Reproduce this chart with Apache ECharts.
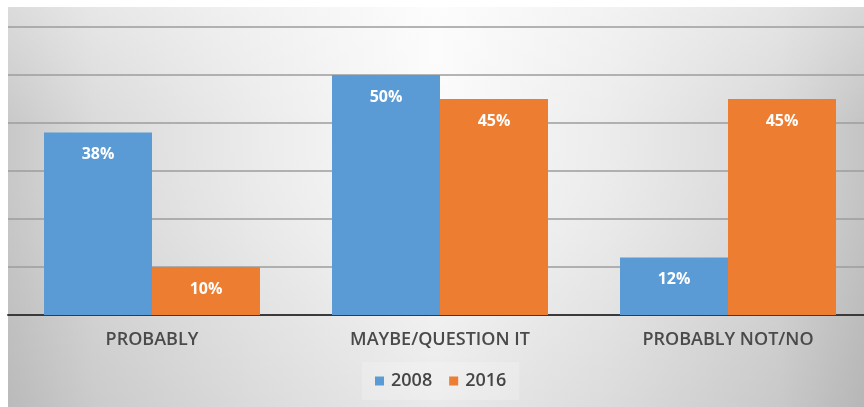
<!DOCTYPE html>
<html>
<head>
<meta charset="utf-8">
<script src="https://cdn.jsdelivr.net/npm/echarts@6/dist/echarts.min.js"></script>
<style>
  html, body { margin: 0; padding: 0; background: #ffffff; overflow: hidden; }
  #chart { width: 872px; height: 407px; }
</style>
</head>
<body>
<div id="chart"></div>
<script>
// Survey answers, share of respondents (%) by year
const categories = ['PROBABLY', 'MAYBE/QUESTION IT', 'PROBABLY NOT/NO'];
const values2008 = [38, 50, 12];
const values2016 = [10, 45, 45];
const seriesNames = ['2008', '2016'];

const chart = echarts.init(document.getElementById('chart'));

const labelStyle = {
  show: true,
  position: 'insideTop',
  distance: 14,
  color: '#ffffff',
  fontFamily: 'Open Sans',
  fontWeight: 'bold',
  fontSize: 16,
  formatter: p => p.value + '%'
};

chart.setOption({
  animation: false,
  graphic: [
    {
      // horizontal shading: grey at the sides, white towards the middle
      type: 'rect',
      z: -10,
      silent: true,
      shape: { x: 8, y: 7, width: 856, height: 400 },
      style: {
        fill: {
          type: 'linear', x: 0, y: 0, x2: 1, y2: 0,
          colorStops: [
            { offset: 0, color: '#c8c8c8' },
            { offset: 0.1, color: '#dadada' },
            { offset: 0.3, color: '#ececec' },
            { offset: 0.5, color: '#fbfbfb' },
            { offset: 0.7, color: '#ececec' },
            { offset: 0.9, color: '#d8d8d8' },
            { offset: 1, color: '#c4c4c4' }
          ]
        }
      }
    },
    {
      // vertical shading: darker towards the bottom
      type: 'rect',
      z: -9,
      silent: true,
      shape: { x: 8, y: 7, width: 856, height: 400 },
      style: {
        fill: {
          type: 'linear', x: 0, y: 0, x2: 0, y2: 1,
          colorStops: [
            { offset: 0, color: 'rgba(255,255,255,0.35)' },
            { offset: 0.3, color: 'rgba(255,255,255,0)' },
            { offset: 0.7, color: 'rgba(0,0,0,0.03)' },
            { offset: 1, color: 'rgba(0,0,0,0.07)' }
          ]
        }
      }
    }
  ],
  grid: { left: 8, top: 27, right: 0, height: 288, containLabel: false },
  legend: {
    data: seriesNames,
    left: 362,
    top: 362,
    itemWidth: 9,
    itemHeight: 9,
    itemGap: 17,
    icon: 'rect',
    padding: [10, 13],
    backgroundColor: 'rgba(255,255,255,0.2)',
    textStyle: { color: '#454545', fontFamily: 'Open Sans', fontSize: 18, fontWeight: 600, padding: [0, 0, 0, 2] }
  },
  xAxis: {
    type: 'category',
    data: categories,
    axisTick: { show: false },
    axisLine: { lineStyle: { color: '#3a3a3a', width: 2 } },
    axisLabel: {
      color: '#4a4a4a',
      fontFamily: 'Open Sans',
      fontWeight: 600,
      fontSize: 18,
      margin: 16
    }
  },
  yAxis: {
    type: 'value',
    min: 0,
    max: 60,
    interval: 10,
    axisLabel: { show: false },
    axisLine: { show: false },
    axisTick: { show: false },
    splitLine: { lineStyle: { color: '#9c9c9c', width: 1.5 } }
  },
  series: [
    {
      name: seriesNames[0],
      type: 'bar',
      data: values2008,
      barWidth: 108,
      barGap: '0%',
      itemStyle: { color: '#5b9bd5' },
      label: labelStyle
    },
    {
      name: seriesNames[1],
      type: 'bar',
      data: values2016,
      barWidth: 108,
      barGap: '0%',
      itemStyle: { color: '#ed7d31' },
      label: labelStyle
    }
  ]
});
</script>
</body>
</html>
